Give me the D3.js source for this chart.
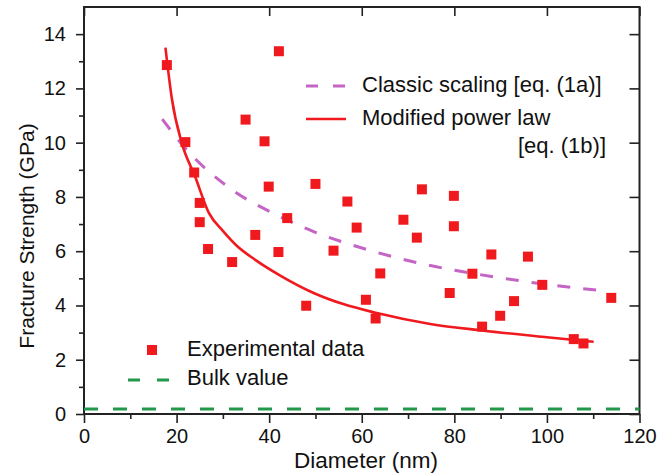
<!DOCTYPE html>
<html>
<head>
<meta charset="utf-8">
<script src="https://cdn.jsdelivr.net/npm/d3@7"></script>
<style>
  html, body { margin: 0; padding: 0; background: #fff; }
  svg { display: block; font-family: Arial, "Liberation Sans", Helvetica, sans-serif; }
</style>
</head>
<body>
<svg id="chart" width="669" height="474"></svg>
<script>
// ---- Data ----
const expDiameter = [17.9, 21.9, 23.8, 25.0, 25.0, 26.8, 32.0, 34.9, 37.0, 39.0, 39.9, 42.1, 42.0, 43.9,
  48.0, 50.0, 53.9, 56.9, 58.9, 60.9, 63.0, 64.0, 69.0, 71.9, 73.0, 79.9, 79.9, 79.0, 83.9, 86.0,
  88.0, 89.9, 92.9, 95.9, 99.0, 105.8, 107.9, 113.9];
const expStrength = [12.86, 10.02, 8.9, 7.78, 7.07, 6.08, 5.6, 10.85, 6.6, 10.05, 8.38, 13.37, 5.97, 7.22,
  3.99, 8.48, 6.02, 7.83, 6.87, 4.21, 3.52, 5.18, 7.16, 6.5, 8.28, 8.04, 6.92, 4.46, 5.17, 3.22,
  5.88, 3.62, 4.16, 5.8, 4.76, 2.76, 2.6, 4.28];

const classicDiameter = [16.9, 21.9, 30.8, 42.4, 49.6, 60.4, 72.6, 84.1, 97.1, 112.6];
const classicStrength = [10.87, 9.79, 8.41, 7.27, 6.72, 6.1, 5.55, 5.18, 4.84, 4.53];

const powerDiameter = [17.6, 19.0, 21.1, 24.0, 27.0, 30.0, 33.0, 37.0, 42.4, 49.6, 56.0, 63.0, 74.8, 86.0, 100.0, 110.1];
const powerStrength = [13.5, 11.6, 10.0, 8.75, 7.4, 6.75, 6.2, 5.68, 5.1, 4.46, 4.05, 3.73, 3.32, 3.08, 2.83, 2.66];

const bulkDiameter = [0, 120];
const bulkStrength = [0.18, 0.18];

const xTicks = [0, 20, 40, 60, 80, 100, 120];
const xMinorTicks = [10, 30, 50, 70, 90, 110];
const yTicks = [0, 2, 4, 6, 8, 10, 12, 14];
const yMinorTicks = [1, 3, 5, 7, 9, 11, 13];

const legendLabels = ["Classic scaling [eq. (1a)]", "Modified power law", "[eq. (1b)]", "Experimental data", "Bulk value"];
const xTitle = "Diameter (nm)";
const yTitle = "Fracture Strength (GPa)";

// ---- Layout ----
const W = 669, H = 474;
const m = { left: 84, right: 29.5, top: 7, bottom: 60 };
const iw = W - m.left - m.right, ih = H - m.top - m.bottom;

const RED = "#f0191e", PURPLE = "#c464c4", GREEN = "#22984a", AXIS = "#222";

const svg = d3.select("#chart");
const g = svg.append("g").attr("transform", `translate(${m.left},${m.top})`);

const x = d3.scaleLinear().domain([0, 120]).range([0, iw]);
const y = d3.scaleLinear().domain([0, 15]).range([ih, 0]);

// Axes
function styleAxis(sel) {
  sel.selectAll(".domain").remove();
  sel.selectAll("line").attr("stroke", AXIS).attr("stroke-width", 1.6);
  sel.selectAll("text").attr("fill", "#111").style("font-size", "20px");
}
g.append("g").attr("transform", `translate(0,${ih})`)
  .call(d3.axisBottom(x).tickValues(xTicks).tickFormat(d3.format("d")).tickSize(9).tickPadding(6)).call(styleAxis);
g.append("g").attr("transform", `translate(0,${ih})`)
  .call(d3.axisBottom(x).tickValues(xMinorTicks).tickFormat("").tickSize(5)).call(styleAxis);
g.append("g")
  .call(d3.axisLeft(y).tickValues(yTicks).tickFormat(d3.format("d")).tickSize(8).tickPadding(10)).call(styleAxis);
g.append("g")
  .call(d3.axisLeft(y).tickValues(yMinorTicks).tickFormat("").tickSize(5)).call(styleAxis);
// mirror ticks (inward)
g.append("g")
  .call(d3.axisBottom(x).tickValues(xTicks).tickFormat("").tickSize(9)).call(styleAxis);
g.append("g").attr("transform", `translate(${iw},0)`)
  .call(d3.axisLeft(y).tickValues(yTicks).tickFormat("").tickSize(10)).call(styleAxis);

// frame
g.append("rect").attr("x", 0).attr("y", 0).attr("width", iw).attr("height", ih)
  .attr("fill", "none").attr("stroke", AXIS).attr("stroke-width", 2);

// Lines
const line = d3.line().x(d => x(d[0])).y(d => y(d[1]));
const curvy = d3.line().x(d => x(d[0])).y(d => y(d[1])).curve(d3.curveMonotoneX);

g.append("path").datum(d3.zip(bulkDiameter, bulkStrength)).attr("d", line)
  .attr("fill", "none").attr("stroke", GREEN).attr("stroke-width", 3).attr("stroke-dasharray", "14,15");

g.append("path").datum(d3.zip(classicDiameter, classicStrength)).attr("d", curvy)
  .attr("fill", "none").attr("stroke", PURPLE).attr("stroke-width", 3).attr("stroke-dasharray", "13,13");

g.append("path").datum(d3.zip(powerDiameter, powerStrength)).attr("d", curvy)
  .attr("fill", "none").attr("stroke", RED).attr("stroke-width", 2.6);

// Experimental data
const S = 10;
g.append("g").selectAll("rect").data(d3.zip(expDiameter, expStrength)).join("rect")
  .attr("x", d => x(d[0]) - S / 2).attr("y", d => y(d[1]) - S / 2)
  .attr("width", S).attr("height", S).attr("fill", RED);

// Axis titles
svg.append("text").attr("x", 366).attr("y", 462).attr("text-anchor", "middle")
  .attr("dominant-baseline", "middle").style("font-size", "22.5px").attr("fill", "#111").text(xTitle);
svg.append("text").attr("transform", "translate(28,236) rotate(-90)").attr("text-anchor", "middle")
  .attr("dominant-baseline", "middle").style("font-size", "21px").attr("fill", "#111").text(yTitle);

// Legend (top right)
const lg = svg.append("g");
lg.append("line").attr("x1", 306).attr("x2", 346).attr("y1", 86).attr("y2", 86)
  .attr("stroke", PURPLE).attr("stroke-width", 3).attr("stroke-dasharray", "12,15");
lg.append("text").attr("x", 362).attr("y", 86).attr("dominant-baseline", "middle")
  .style("font-size", "22px").attr("fill", "#111").text(legendLabels[0]);
lg.append("line").attr("x1", 306).attr("x2", 346).attr("y1", 119).attr("y2", 119)
  .attr("stroke", RED).attr("stroke-width", 2.6);
lg.append("text").attr("x", 362).attr("y", 119).attr("dominant-baseline", "middle")
  .style("font-size", "22px").attr("fill", "#111").text(legendLabels[1]);
lg.append("text").attr("x", 606).attr("y", 147).attr("dominant-baseline", "middle").attr("text-anchor", "end")
  .style("font-size", "22px").attr("fill", "#111").text(legendLabels[2]);

// Legend (bottom left)
lg.append("rect").attr("x", 152 - S / 2).attr("y", 350 - S / 2).attr("width", S).attr("height", S).attr("fill", RED);
lg.append("text").attr("x", 187).attr("y", 350).attr("dominant-baseline", "middle")
  .style("font-size", "22px").attr("fill", "#111").text(legendLabels[3]);
lg.append("line").attr("x1", 128).attr("x2", 172).attr("y1", 380).attr("y2", 380)
  .attr("stroke", GREEN).attr("stroke-width", 3).attr("stroke-dasharray", "12,17");
lg.append("text").attr("x", 187).attr("y", 379).attr("dominant-baseline", "middle")
  .style("font-size", "22px").attr("fill", "#111").text(legendLabels[4]);
</script>
</body>
</html>
